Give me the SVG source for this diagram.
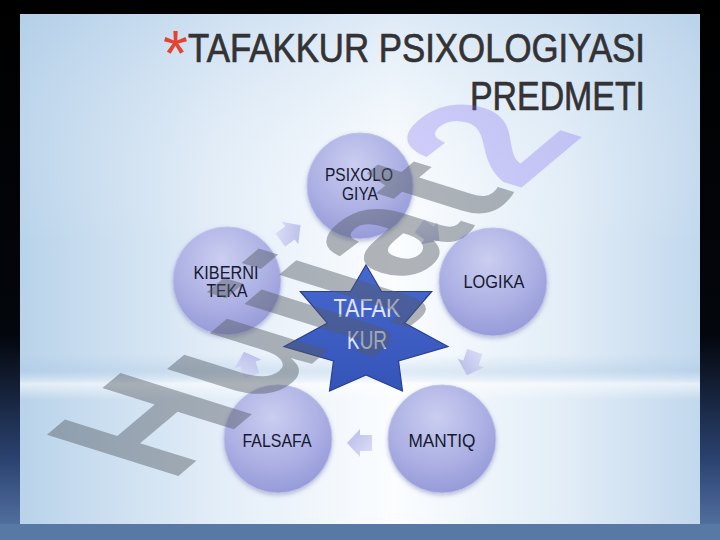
<svg xmlns="http://www.w3.org/2000/svg" width="720" height="540" viewBox="0 0 720 540">
<defs>
  <linearGradient id="bgV" x1="0" y1="0" x2="0" y2="1">
    <stop offset="0" stop-color="#000000"/>
    <stop offset="0.62" stop-color="#03060c"/>
    <stop offset="0.85" stop-color="#2b4270"/>
    <stop offset="1" stop-color="#5a79a8"/>
  </linearGradient>
  <linearGradient id="panelH" x1="0" y1="0" x2="1" y2="0">
    <stop offset="0" stop-color="#b9d3ea"/>
    <stop offset="0.3" stop-color="#e4eef8"/>
    <stop offset="0.55" stop-color="#fbfdff"/>
    <stop offset="0.8" stop-color="#e2edf7"/>
    <stop offset="1" stop-color="#c2d8ed"/>
  </linearGradient>
  <linearGradient id="panelTop" x1="0" y1="0" x2="0" y2="1">
    <stop offset="0" stop-color="#a9c8e6" stop-opacity="0.35"/>
    <stop offset="0.45" stop-color="#ffffff" stop-opacity="0"/>
    <stop offset="1" stop-color="#ffffff" stop-opacity="0"/>
  </linearGradient>
  <linearGradient id="band" x1="0" y1="0" x2="0" y2="1">
    <stop offset="0" stop-color="#a8c6e3" stop-opacity="0"/>
    <stop offset="0.35" stop-color="#a3c3e2" stop-opacity="0.3"/>
    <stop offset="0.65" stop-color="#ffffff" stop-opacity="0.6"/>
    <stop offset="1" stop-color="#ffffff" stop-opacity="0"/>
  </linearGradient>
  <radialGradient id="ball" cx="0.45" cy="0.3" r="0.75">
    <stop offset="0" stop-color="#cbcef0"/>
    <stop offset="0.6" stop-color="#abafe3"/>
    <stop offset="1" stop-color="#9397d7"/>
  </radialGradient>
  <linearGradient id="starG" x1="0" y1="0" x2="0" y2="1">
    <stop offset="0" stop-color="#4768cf"/>
    <stop offset="1" stop-color="#3554b8"/>
  </linearGradient>
  <linearGradient id="arrG" x1="0" y1="0" x2="1" y2="1">
    <stop offset="0" stop-color="#dcdef6"/>
    <stop offset="1" stop-color="#aeb2e5"/>
  </linearGradient>
  <filter id="sh" x="-20%" y="-20%" width="140%" height="140%">
    <feDropShadow dx="0" dy="2" stdDeviation="2" flood-color="#4a5599" flood-opacity="0.35"/>
  </filter>
  <path id="arr" d="M-12,-8 H0 V-14 L13,0 L0,14 V8 H-12 Z"/>
  <style>
    .ball { fill: url(#ball); stroke: #bfc2ec; stroke-width: 1; filter: url(#sh); }
    .lbl { font-family: "Liberation Sans", Arial, sans-serif; font-size: 18px; fill: #151a30; text-anchor: middle; }
    .star { font-family: "Liberation Sans", Arial, sans-serif; font-size: 25px; fill: #e2e6f4; text-anchor: middle; }
    .ttl { font-family: "Liberation Sans", Arial, sans-serif; font-size: 40px; fill: #333335; stroke: #333335; stroke-width: 0.7; text-anchor: end; }
    .arr { fill: url(#arrG); opacity: 0.9; }
  </style>
</defs>

<!-- slide background -->
<rect x="0" y="0" width="720" height="540" fill="url(#bgV)"/>
<rect x="20" y="14" width="680" height="510" fill="url(#panelH)"/>
<rect x="20" y="14" width="680" height="510" fill="url(#panelTop)"/>
<rect x="20" y="354" width="680" height="46" fill="url(#band)"/>
<rect x="0" y="524" width="720" height="16" fill="#5878a6"/>

<!-- title -->
<g id="title">
  <text x="163" y="76" font-family="'Liberation Sans', Arial, sans-serif" font-size="64" fill="#e4432f">*</text>
  <text class="ttl" x="645" y="62" textLength="457" lengthAdjust="spacingAndGlyphs">TAFAKKUR PSIXOLOGIYASI</text>
  <text class="ttl" x="645" y="110" textLength="175" lengthAdjust="spacingAndGlyphs">PREDMETI</text>
</g>

<!-- connectors -->
<g id="connectors">
  <use href="#arr" class="arr" transform="translate(290,233) rotate(-36)"/>
  <use href="#arr" class="arr" transform="translate(429,233) rotate(36)"/>
  <use href="#arr" class="arr" transform="translate(471,363) rotate(108)"/>
  <use href="#arr" class="arr" transform="translate(360,443) rotate(180)"/>
  <use href="#arr" class="arr" transform="translate(248,364) rotate(252)"/>
</g>

<!-- nodes -->
<g id="psixologiya">
  <circle class="ball" cx="360" cy="186" r="53"/>
  <text class="lbl" x="359" y="181" textLength="68" lengthAdjust="spacingAndGlyphs">PSIXOLO</text>
  <text class="lbl" x="360" y="200" textLength="36" lengthAdjust="spacingAndGlyphs">GIYA</text>
</g>
<g id="logika">
  <circle class="ball" cx="493" cy="282" r="54"/>
  <text class="lbl" x="494" y="288" textLength="61" lengthAdjust="spacingAndGlyphs">LOGIKA</text>
</g>
<g id="mantiq">
  <circle class="ball" cx="442" cy="439" r="54"/>
  <text class="lbl" x="442" y="447" textLength="67" lengthAdjust="spacingAndGlyphs">MANTIQ</text>
</g>
<g id="falsafa">
  <circle class="ball" cx="278" cy="439" r="54"/>
  <text class="lbl" x="277" y="447" textLength="69" lengthAdjust="spacingAndGlyphs">FALSAFA</text>
</g>
<g id="kibernetika">
  <circle class="ball" cx="227" cy="281" r="54"/>
  <text class="lbl" x="226" y="279" textLength="65" lengthAdjust="spacingAndGlyphs">KIBERNI</text>
  <text class="lbl" x="227" y="297" textLength="41" lengthAdjust="spacingAndGlyphs">TEKA</text>
</g>
<g id="tafakkur">
  <polygon points="366,265 381.5,291.5 431.7,291.5 404.6,323.0 448,346.5 398.5,360.9 402.5,391 366,374.9 329.5,391 333.5,360.9 284,346.5 327.4,323.0 300.3,291.5 350.5,291.5" fill="url(#starG)" stroke="#2a3f92" stroke-width="1.2"/>
  <text class="star" x="367" y="317" textLength="67" lengthAdjust="spacingAndGlyphs">TAFAK</text>
  <text class="star" x="367" y="349" textLength="40" lengthAdjust="spacingAndGlyphs">KUR</text>
</g>

<!-- watermark -->
<g id="watermark" transform="matrix(1.25 -1.05 1.91 0.6 170 483)">
  <text x="0" y="0" font-family="'Liberation Sans', Arial, sans-serif" font-weight="bold" font-size="100"><tspan fill="#555b63" fill-opacity="0.45">Hujjat</tspan><tspan fill="#7b68ee" fill-opacity="0.3">2</tspan></text>
</g>
</svg>
